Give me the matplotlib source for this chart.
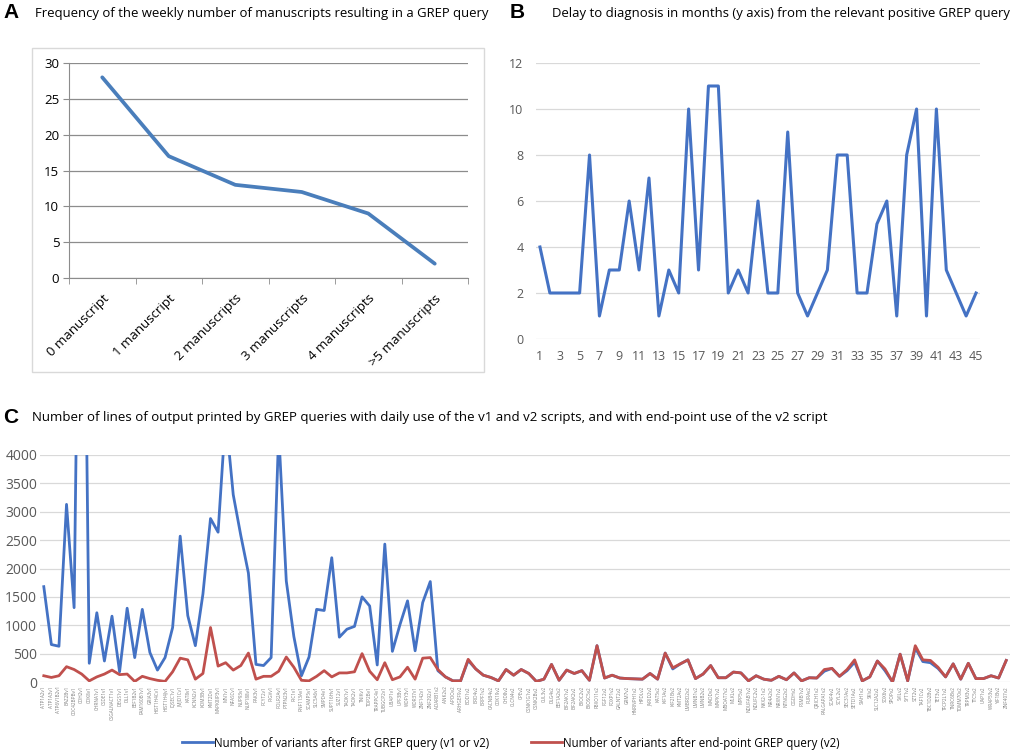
import matplotlib.pyplot as plt
from matplotlib.patches import Rectangle

W, H = 1017, 752

# panel A
a_categories = ['0 manuscript', '1 manuscript', '2 manuscripts', '3 manuscripts',
                '4 manuscripts', '>5 manuscripts']
a_counts = [28, 17, 13, 12, 9, 2]

# panel B
b_query = list(range(1, 46))
b_delay = [4, 2, 2, 2, 2, 8, 1, 3, 3, 6, 3, 7, 1, 3, 2, 10, 3, 11, 11, 2, 3, 2, 6,
           2, 2, 9, 2, 1, 2, 3, 8, 8, 2, 2, 5, 6, 1, 8, 10, 1, 10, 3, 2, 1, 2]

# panel C
genes_v1 = ['ATP1A2', 'ATP1A3', 'ATP6V1B2', 'BAZ2B', 'CDC42BPB', 'CDH2', 'CDK8', 'CHRNA1',
            'CSDE1', 'CSGALNACT1', 'DEGS1', 'DLL1', 'EEF1B2', 'FAM160B1', 'GRIA3',
            'HIST1H4C', 'HIST1H4J', 'IQSEC1', 'JMJD1C', 'KAT8', 'KCNN2', 'KDM3B', 'KMT2D',
            'MAPK8IP3', 'MN1', 'NFASC', 'NUP93', 'NUP188', 'PAK3', 'PCYT2', 'PIGV', 'POLR2A',
            'PTPN23', 'RIC1', 'RNF113A', 'SCAMP5', 'SLC5A6', 'SMPD4', 'SUPT16H', 'SUZ12',
            'TAOK1', 'TAOK2', 'TNIK', 'TOP2B', 'TRAPPC4', 'TUBGCP2', 'UBAP1', 'UPF3B',
            'WDFY3', 'WDR37', 'ZNF142', 'ZNF292']
genes_v2 = ['ADARB1', 'ANK2', 'APOO', 'ARHGEF9', 'BOD1', 'BRD4', 'BRPF1', 'CACNB4', 'CDK19',
            'CHD8', 'CLCN4', 'CPE', 'CSNK1G1', 'CSNK2B', 'CUL3', 'DLG4', 'EEF1A2', 'EIF2AK1',
            'EIF2AK2', 'EXOC2', 'EXOSC5', 'FBXO11', 'FGF12', 'FOXP1', 'GALNT2', 'GRM7',
            'HNRNPH1', 'HPDL', 'JARID2', 'KAT5', 'KIF1A', 'KIF21B', 'KMT2A', 'LMBRD2', 'LMNB1',
            'LMNB2', 'MADD', 'MAPK1', 'MBOAT7', 'MLKL', 'MPP5', 'NDUFAB1', 'NDUFC2', 'NKX2-1',
            'NR4A2', 'NRXN1', 'NTNG2', 'OGDH', 'PSMB1', 'PURA', 'QRICH1', 'RALGAPA1', 'SCAF4',
            'SCYL2', 'SEC31A', 'SETD1A', 'SIAH1', 'SKI', 'SLC12A2', 'SOX6', 'SPOP', 'SVIL',
            'SYT1', 'SZT2', 'TAF1C', 'TBC1D2B', 'TET3', 'TFCP2L1', 'TNRC6B', 'TOMM70', 'TRPM3',
            'TTC5', 'UAP1', 'WRAP53', 'YIF1B', 'ZNF407']
c_labels = [g + 'v1' for g in genes_v1] + [g + 'v2' for g in genes_v2]

c_first = [1680, 660, 630, 3130, 1310, 12000, 330, 1220, 370, 1160, 180, 1300, 430, 1280,
           520, 210, 430, 960, 2570, 1170, 640, 1550, 2880, 2640, 4700, 3300, 2580, 1920,
           310, 290, 430, 4400, 1780, 800, 110, 440, 1280, 1260, 2190, 790, 930, 980, 1500,
           1340, 300, 2430, 540, 1010, 1430, 550, 1400, 1770, 200,
           90, 20, 20, 380, 230, 120, 80, 20, 220, 120, 220, 150, 10, 50, 310, 30, 210, 150,
           200, 30, 640, 70, 120, 70, 60, 55, 50, 150, 50, 510, 230, 320, 390, 60, 140, 290,
           75, 75, 175, 160, 20, 110, 50, 30, 100, 40, 160, 20, 75, 70, 190, 240, 100, 200,
           350, 20, 90, 370, 200, 0, 490, 20, 600, 360, 340, 240, 90, 320, 50, 330, 60, 60,
           110, 70, 380]
c_endpoint = [110, 80, 110, 270, 220, 140, 20, 90, 140, 210, 130, 140, 10, 100, 60, 30, 10,
              180, 420, 390, 50, 150, 960, 280, 340, 210, 290, 510, 50, 100, 100, 190, 440,
              260, 30, 20, 100, 200, 90, 160, 160, 180, 500, 190, 40, 340, 40, 90, 260, 50,
              420, 430, 220,
              90, 20, 20, 400, 230, 120, 80, 20, 220, 120, 220, 150, 10, 50, 310, 30, 210,
              150, 200, 30, 640, 70, 120, 70, 60, 55, 50, 150, 50, 510, 250, 320, 390, 60,
              140, 290, 75, 75, 175, 160, 20, 110, 50, 30, 100, 40, 160, 20, 75, 70, 220,
              240, 100, 220, 390, 20, 90, 370, 230, 0, 490, 20, 640, 390, 380, 260, 90, 320,
              50, 330, 60, 60, 110, 70, 380]

plt.rcParams['font.family'] = ['Open Sans', 'DejaVu Sans']


def box(x0, y0, x1, y1):
    # pixel box (from top-left) -> figure rect
    return [x0 / W, 1 - y1 / H, (x1 - x0) / W, (y1 - y0) / H]


def fxy(x, y):
    return x / W, 1 - y / H


fig = plt.figure(figsize=(W / 100, H / 100), dpi=100)
grey_txt = '#595959'
grid_c = '#d9d9d9'

# ---------- A ----------
fig.patches.append(Rectangle(fxy(32, 372), 452 / W, 324 / H, transform=fig.transFigure,
                             fill=False, edgecolor='#d9d9d9', lw=1))
axA = fig.add_axes(box(69, 63, 468, 278))
xa = list(range(len(a_categories)))
axA.plot(xa, a_counts, color='#4a7ebb', lw=2.7, solid_capstyle='round')
axA.set_xlim(-0.5, 5.5)
axA.set_ylim(0, 30)
axA.set_yticks(range(0, 31, 5))
axA.grid(axis='y', color='#8c8c8c', lw=0.9)
axA.set_axisbelow(True)
for s in ['top', 'right']:
    axA.spines[s].set_visible(False)
for s in ['left', 'bottom']:
    axA.spines[s].set_color('#8c8c8c')
axA.set_xticks([i - 0.5 for i in range(7)], minor=True)
axA.set_xticks(xa)
axA.tick_params(axis='x', which='major', length=0, pad=10)
axA.tick_params(axis='x', which='minor', length=4, color='#8c8c8c')
axA.tick_params(axis='y', length=4, color='#8c8c8c', labelsize=9.5, pad=3)
axA.set_xticklabels(a_categories, rotation=45, ha='right', va='top',
                    rotation_mode='anchor', fontsize=9.5)
fig.text(*fxy(3, 18), 'A', fontsize=15, fontweight='bold', family='Liberation Sans',
         va='baseline')
fig.text(*fxy(35, 17), 'Frequency of the weekly number of manuscripts resulting in a GREP query',
         fontsize=9.45, va='baseline')

# ---------- B ----------
axB = fig.add_axes(box(536, 63, 980, 339))
axB.plot(b_query, b_delay, color='#4472c4', lw=2.2)
axB.set_xlim(0.6, 45.4)
axB.set_ylim(0, 12)
axB.set_yticks(range(0, 13, 2))
axB.set_xticks(b_query[::2])
axB.grid(axis='y', color=grid_c, lw=0.9)
axB.set_axisbelow(True)
for s in axB.spines.values():
    s.set_visible(False)
axB.tick_params(length=0, labelsize=9, labelcolor=grey_txt)
axB.tick_params(axis='x', pad=8)
axB.tick_params(axis='y', pad=9)
fig.text(*fxy(510, 18), 'B', fontsize=15, fontweight='bold', family='Liberation Sans',
         va='baseline')
fig.text(*fxy(552, 17), 'Delay to diagnosis in months (y axis) from the relevant positive GREP query',
         fontsize=9.45, va='baseline')

# ---------- C ----------
axC = fig.add_axes(box(40, 455, 1010, 682))
xc = list(range(len(c_labels)))
axC.plot(xc, c_first, color='#4472c4', lw=2.0, label='Number of variants after first GREP query (v1 or v2)')
axC.plot(xc, c_endpoint, color='#c0504d', lw=2.0, label='Number of variants after end-point GREP query (v2)')
axC.set_xlim(-0.5, len(c_labels) - 0.5)
axC.set_ylim(0, 4000)
axC.set_yticks(range(0, 4001, 500))
axC.set_xticks(xc)
axC.set_xticklabels(c_labels, rotation=90, fontsize=3.3, color='#7f7f7f')
axC.grid(axis='y', color=grid_c, lw=0.9)
axC.set_axisbelow(True)
for s in axC.spines.values():
    s.set_visible(False)
axC.tick_params(length=0)
axC.tick_params(axis='x', pad=3)
axC.tick_params(axis='y', labelsize=10, labelcolor=grey_txt, pad=2)
fig.text(*fxy(3, 423), 'C', fontsize=15, fontweight='bold', family='Liberation Sans',
         va='baseline')
fig.text(*fxy(32, 421), 'Number of lines of output printed by GREP queries with daily use of the '
         'v1 and v2 scripts, and with end-point use of the v2 script', fontsize=9.5, va='baseline')

fig.legend(handles=axC.get_lines(), loc='center', bbox_to_anchor=fxy(511, 743), ncol=2,
           frameon=False, fontsize=8.3, handlelength=2.7, handletextpad=0.1,
           columnspacing=3.6, borderaxespad=0)

fig.savefig('out.png', dpi=100)
